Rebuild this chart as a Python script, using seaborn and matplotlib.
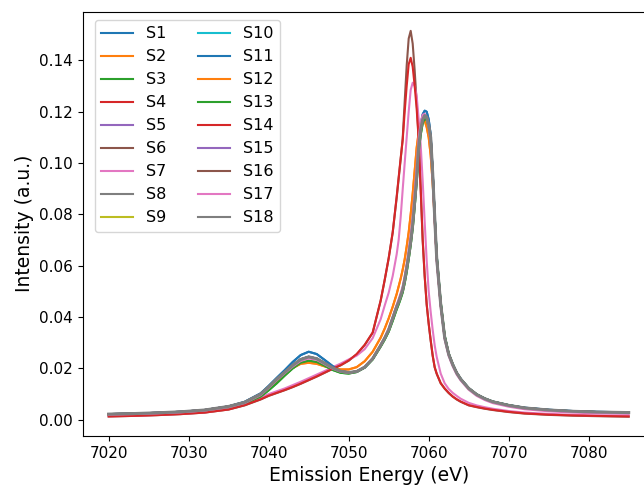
import pandas as pd
import matplotlib
matplotlib.use('Agg')
import matplotlib.pyplot as plt
import seaborn as sns

# --- energy grid (eV), finer around the Kb1,3 peak ---
energy = [
    7020, 7023, 7026, 7029, 7032, 7035, 7037, 7039,
    7040, 7041, 7042, 7043, 7044, 7045, 7046, 7047, 7048, 7049, 7050, 7051, 7052, 7053,
    7054, 7054.5, 7055, 7055.5,
    7056, 7056.25, 7056.5, 7056.75, 7057, 7057.25, 7057.5, 7057.75, 7058, 7058.25, 7058.5,
    7058.75, 7059, 7059.25, 7059.5, 7059.75, 7060, 7060.25, 7060.5, 7060.75, 7061,
    7061.5, 7062, 7062.5, 7063, 7063.5, 7064,
    7065, 7066, 7067, 7068, 7070, 7072, 7075, 7078, 7081, 7085,
]

# --- intensities ---
int_gray = [
    0.0022, 0.0024, 0.0027, 0.0031, 0.0038, 0.0052, 0.0068, 0.0100,
    0.0128, 0.0158, 0.0185, 0.0212, 0.0235, 0.0245, 0.0238, 0.0220, 0.0202, 0.0189, 0.0184, 0.0188, 0.0205, 0.0238,
    0.0290, 0.0318, 0.0350, 0.0395,
    0.0440, 0.0460, 0.0483, 0.0507, 0.0545, 0.0590, 0.0640, 0.0695, 0.0760, 0.0850, 0.0945,
    0.1065, 0.1130, 0.1170, 0.1185, 0.1180, 0.1150, 0.1100, 0.0960, 0.0790, 0.0630,
    0.0450, 0.0320, 0.0255, 0.0215, 0.0182, 0.0158,
    0.0122, 0.0098, 0.0082, 0.0070, 0.0056, 0.0046, 0.0038, 0.0033, 0.0030, 0.0028,
]
int_blue = [
    0.0022, 0.0024, 0.0027, 0.0031, 0.0038, 0.0052, 0.0070, 0.0103,
    0.0132, 0.0163, 0.0193, 0.0225, 0.0252, 0.0265, 0.0256, 0.0233, 0.0209, 0.0192, 0.0184, 0.0187, 0.0204, 0.0237,
    0.0290, 0.0318, 0.0352, 0.0397,
    0.0442, 0.0462, 0.0485, 0.0510, 0.0548, 0.0594, 0.0645, 0.0700, 0.0768, 0.0860, 0.0960,
    0.1080, 0.1150, 0.1190, 0.1204, 0.1200, 0.1170, 0.1110, 0.0970, 0.0800, 0.0640,
    0.0455, 0.0325, 0.0258, 0.0217, 0.0184, 0.0160,
    0.0123, 0.0099, 0.0083, 0.0071, 0.0057, 0.0047, 0.0039, 0.0034, 0.0031, 0.0029,
]
int_orange = [
    0.0021, 0.0023, 0.0026, 0.0030, 0.0037, 0.0050, 0.0066, 0.0095,
    0.0120, 0.0150, 0.0178, 0.0202, 0.0218, 0.0222, 0.0218, 0.0208, 0.0200, 0.0196, 0.0196, 0.0205, 0.0228, 0.0265,
    0.0320, 0.0355, 0.0395, 0.0440,
    0.0490, 0.0520, 0.0550, 0.0585, 0.0625, 0.0675, 0.0730, 0.0800, 0.0880, 0.0970, 0.1060,
    0.1120, 0.1155, 0.1170, 0.1165, 0.1140, 0.1100, 0.1030, 0.0920, 0.0780, 0.0630,
    0.0450, 0.0322, 0.0256, 0.0215, 0.0182, 0.0158,
    0.0121, 0.0097, 0.0081, 0.0069, 0.0055, 0.0045, 0.0037, 0.0032, 0.0029, 0.0027,
]
int_green = [
    0.0021, 0.0023, 0.0026, 0.0030, 0.0036, 0.0048, 0.0062, 0.0090,
    0.0115, 0.0142, 0.0172, 0.0200, 0.0222, 0.0230, 0.0225, 0.0210, 0.0194, 0.0183, 0.0180, 0.0186, 0.0203, 0.0235,
    0.0285, 0.0312, 0.0343, 0.0385,
    0.0430, 0.0450, 0.0472, 0.0496, 0.0532, 0.0575, 0.0625, 0.0680, 0.0745, 0.0830, 0.0925,
    0.1040, 0.1110, 0.1155, 0.1172, 0.1168, 0.1140, 0.1095, 0.0960, 0.0795, 0.0640,
    0.0460, 0.0328, 0.0258, 0.0217, 0.0183, 0.0159,
    0.0123, 0.0099, 0.0083, 0.0071, 0.0057, 0.0046, 0.0038, 0.0033, 0.0030, 0.0028,
]
int_pink_a = [
    0.0020, 0.0022, 0.0025, 0.0029, 0.0036, 0.0049, 0.0065, 0.0096,
    0.0124, 0.0154, 0.0181, 0.0207, 0.0229, 0.0239, 0.0233, 0.0216, 0.0199, 0.0187, 0.0183, 0.0188, 0.0206, 0.0240,
    0.0293, 0.0322, 0.0356, 0.0402,
    0.0448, 0.0470, 0.0494, 0.0520, 0.0560, 0.0608, 0.0662, 0.0722, 0.0795, 0.0890, 0.0990,
    0.1100, 0.1160, 0.1188, 0.1192, 0.1175, 0.1140, 0.1080, 0.0940, 0.0770, 0.0615,
    0.0440, 0.0312, 0.0248, 0.0208, 0.0176, 0.0153,
    0.0117, 0.0093, 0.0077, 0.0065, 0.0051, 0.0041, 0.0033, 0.0028, 0.0025, 0.0023,
]
int_pink_b = [
    0.0014, 0.0016, 0.0019, 0.0023, 0.0029, 0.0042, 0.0060, 0.0086,
    0.0100, 0.0111, 0.0122, 0.0135, 0.0148, 0.0162, 0.0176, 0.0190, 0.0205, 0.0219, 0.0235, 0.0250, 0.0275, 0.0318,
    0.0392, 0.0445, 0.0495, 0.0560,
    0.0645, 0.0702, 0.0790, 0.0897, 0.1000, 0.1100, 0.1200, 0.1285, 0.1313, 0.1300, 0.1260,
    0.1170, 0.1070, 0.0930, 0.0770, 0.0620, 0.0500, 0.0420, 0.0350, 0.0290, 0.0245,
    0.0180, 0.0142, 0.0120, 0.0105, 0.0093, 0.0082,
    0.0066, 0.0056, 0.0049, 0.0043, 0.0034, 0.0028, 0.0023, 0.0019, 0.0017, 0.0015,
]
int_red = [
    0.0013, 0.0015, 0.0018, 0.0022, 0.0028, 0.0040, 0.0057, 0.0080,
    0.0094, 0.0105, 0.0116, 0.0128, 0.0141, 0.0155, 0.0169, 0.0184, 0.0199, 0.0213, 0.0231, 0.0256, 0.0292, 0.0340,
    0.0465, 0.0545, 0.0630, 0.0730,
    0.0870, 0.0945, 0.1020, 0.1090, 0.1200, 0.1300, 0.1385, 0.1410, 0.1375, 0.1300, 0.1210,
    0.1090, 0.0900, 0.0702, 0.0560, 0.0450, 0.0375, 0.0310, 0.0250, 0.0205, 0.0180,
    0.0143, 0.0122, 0.0105, 0.0091, 0.0080, 0.0071,
    0.0057, 0.0050, 0.0044, 0.0039, 0.0031, 0.0025, 0.0020, 0.0017, 0.0015, 0.0013,
]
int_brown = [
    0.0013, 0.0015, 0.0018, 0.0022, 0.0028, 0.0040, 0.0056, 0.0079,
    0.0093, 0.0104, 0.0115, 0.0127, 0.0140, 0.0154, 0.0168, 0.0183, 0.0198, 0.0212, 0.0230, 0.0255, 0.0291, 0.0339,
    0.0464, 0.0544, 0.0629, 0.0729,
    0.0865, 0.0940, 0.1015, 0.1095, 0.1240, 0.1380, 0.1485, 0.1515, 0.1465, 0.1360, 0.1235,
    0.1095, 0.0895, 0.0698, 0.0558, 0.0448, 0.0373, 0.0308, 0.0249, 0.0204, 0.0179,
    0.0142, 0.0121, 0.0104, 0.0090, 0.0079, 0.0070,
    0.0056, 0.0049, 0.0043, 0.0038, 0.0030, 0.0024, 0.0019, 0.0016, 0.0014, 0.0012,
]

samples = [f"S{i}" for i in range(1, 19)]
sample_spectra = [
    int_blue, int_orange, int_green, int_gray, int_gray, int_brown, int_pink_b, int_gray, int_gray,
    int_gray, int_blue, int_orange, int_green, int_red, int_gray, int_gray, int_pink_a, int_gray,
]

# --- long table for seaborn ---
rows = []
for name, spec in zip(samples, sample_spectra):
    for e, v in zip(energy, spec):
        rows.append({"energy": e, "intensity": v, "sample": name})
df = pd.DataFrame(rows)

palette = sns.color_palette("tab10", len(samples))

fig = plt.figure(figsize=(6.44, 4.88), dpi=100)
ax = fig.add_axes([0.1284, 0.1066, 0.8882, 0.8697])

sns.lineplot(data=df, x="energy", y="intensity", hue="sample", hue_order=samples,
             palette=palette, estimator=None, sort=False, linewidth=1.5, ax=ax)
# S18 is the noisiest scan, it reads as a heavier band
ax.lines[17].set_linewidth(2.2)

ax.set_xticks(range(7020, 7081, 10))
ax.tick_params(labelsize=11)
ax.set_xlabel("Emission Energy (eV)", fontsize=13.5)
ax.set_ylabel("Intensity (a.u.)", fontsize=13.5)
sns.move_legend(ax, "upper left", bbox_to_anchor=(0.0215, 0.98), borderaxespad=0,
                ncol=2, title=None, fontsize=11.5)

plt.savefig("out.png", dpi=100)
